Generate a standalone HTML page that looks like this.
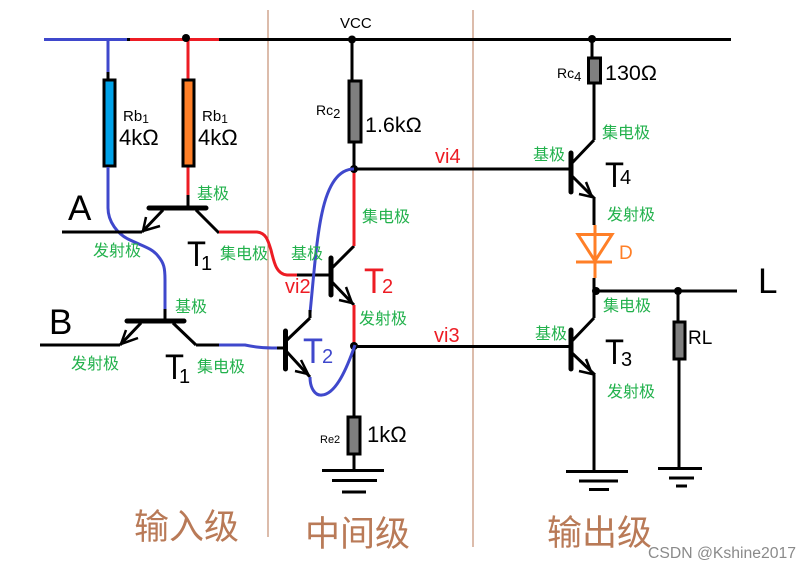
<!DOCTYPE html>
<html><head><meta charset="utf-8"><style>
html,body{margin:0;padding:0;background:#fff;width:811px;height:567px;overflow:hidden}
svg{display:block}
text{font-family:"Liberation Sans","Noto Sans CJK SC",sans-serif;fill:#000}
.g{fill:#22b14c;font-size:16px}
.b{fill:#b97a57;font-size:35px}
.r{fill:#ed1c24;font-size:20px}
.v{font-size:22px}
.T{font-size:35px}
.sub{font-size:20px}
.w{fill:none;stroke:#000;stroke-width:3}
.h{fill:none;stroke:#000;stroke-width:5;stroke-linecap:round}
.bl{fill:none;stroke:#3f48cc;stroke-width:3}
.rd{fill:none;stroke:#ed1c24;stroke-width:3}
.o{fill:none;stroke:#ff7f27;stroke-width:3}
.res{stroke:#000;stroke-width:3;fill:#7f7f7f}
</style></head><body>
<svg width="811" height="567" viewBox="0 0 811 567" xmlns="http://www.w3.org/2000/svg">
<path d="M268 10V537M473 10V547" stroke="#b97a57" stroke-width="1" fill="none"/>

<!-- top rail -->
<path class="w" d="M127 39.500H731"/>
<path class="bl" d="M44 39.500H127M108 39.500V79"/>
<path class="rd" d="M130 39.500H219M188 39.500V79M188 167V195"/>
<circle cx="186" cy="38" r="4"/>
<circle cx="352" cy="39.500" r="4"/>
<circle cx="592" cy="39" r="4"/>
<path class="w" d="M108 72V79M188 195V208M352 39.500V80M354 143V169M592 39V57M594 84V140"/>

<!-- resistors -->
<rect x="104" y="80" width="11" height="86" stroke="#000" stroke-width="3" fill="#00a2e8"/>
<rect x="183" y="80" width="11" height="86" stroke="#000" stroke-width="3" fill="#ff7f27"/>
<rect class="res" x="349" y="81" width="12" height="61"/>
<rect class="res" x="348" y="417" width="12" height="37"/>
<rect class="res" x="588.500" y="58" width="12" height="25"/>
<rect class="res" x="674" y="322" width="11" height="37"/>

<!-- blue wire left -->
<path class="bl" d="M108 167V208C108 222 118 234 128 239C142 246 152 248 158 256C164 263 165 268 165 280V309"/>
<path class="w" d="M165 309V321"/>

<!-- T1 -->
<path class="h" d="M149 208H206M127 321H184"/>
<path class="w" d="M163 210L142 232M62 232H142M196 210L219 233M173 323L196 345M141 323L120 345M40 345H120M196 345H219"/>
<path class="w" style="stroke-width:2.500" d="M146 217L143 231L160 226M126 330L121 344L138 338"/>
<path class="rd" d="M219 232H257C266 233 268 240 271 250C274 262 276 274 287 275H297"/>
<path class="w" d="M297 275H330"/>
<path class="bl" d="M219 345H245C255 347 262 348 277 348"/>
<path class="w" d="M277 348H285"/>

<!-- T2 -->
<path class="h" d="M331 258V295M285.500 331V369"/>
<path class="w" d="M332 268L354 246M332 282L354 305M287 340L310 318M287 352L310 377"/>
<path class="w" style="stroke-width:2.500" d="M346 287L352 303L339 300M301 360L308 374L295 371"/>
<path class="rd" d="M354 169V246M354 305V347"/>
<path class="w" d="M354 169H570M354 346.500H570M354 347V417M354 455V470"/>
<circle cx="354" cy="169" r="4"/>
<circle cx="354" cy="346" r="4"/>
<path class="bl" d="M354 169C338 169 328 185 322 213C316 240 313 285 310 313M310 377C310 388 315 396 322 395C336 394 347 368 355 345"/>
<path class="w" d="M310 310V318"/>

<!-- grounds -->
<path class="w" d="M322 470.500H384M332 480.500H377M342 492H366M566 471.500H628M579 481H618M589 489.500H609M658 468.500H702M669 478H694M676 486H687"/>

<!-- T4 / T3 -->
<path class="h" d="M571 153V192M571 330V369"/>
<path class="w" d="M572 163L594 140M572 176L595 199M594 199V225M594 278V291M572 341L594 318M572 353L595 375M594 291V318M594 375V471M596 291H737M678 291V322M679 359V468"/>
<path class="w" style="stroke-width:2.500" d="M586 182L592 197L579 194M586 359L592 374L579 371"/>
<path class="o" d="M595 225V278M578 234.500H612L595 261ZM576 262H612"/>
<circle cx="596" cy="291" r="4"/>
<circle cx="678" cy="291" r="4"/>

<!-- labels -->
<text x="340" y="28" font-size="15">VCC</text>
<text x="123" y="121" style="font-size:15px">Rb<tspan style="font-size:12px" dy="2">1</tspan></text>
<text x="202" y="121" style="font-size:15px">Rb<tspan style="font-size:12px" dy="2">1</tspan></text>
<text x="119" y="145" class="v">4kΩ</text>
<text x="198" y="145" class="v">4kΩ</text>
<text x="316" y="115" style="font-size:14px">Rc<tspan style="font-size:13px" dy="3">2</tspan></text>
<text x="365" y="132" style="font-size:21.500px">1.6kΩ</text>
<text x="320" y="443" style="font-size:11px">Re2</text>
<text x="367" y="442" class="v">1kΩ</text>
<text x="557" y="78" style="font-size:14px">Rc<tspan style="font-size:13px" dy="3">4</tspan></text>
<text x="605" y="80" style="font-size:21.500px">130Ω</text>
<text x="688" y="344" style="font-size:19px">RL</text>

<text x="68" y="220" style="font-size:35px">A</text>
<text x="49" y="334" style="font-size:35px">B</text>
<text x="758" y="293" style="font-size:35px">L</text>

<text x="187" y="266" class="T" textLength="19" lengthAdjust="spacingAndGlyphs">T</text>
<text x="201" y="270" class="sub">1</text>
<text x="165" y="379" class="T" textLength="19" lengthAdjust="spacingAndGlyphs">T</text>
<text x="179" y="383" class="sub">1</text>
<text x="364" y="293" class="T" style="fill:#ed1c24" textLength="20" lengthAdjust="spacingAndGlyphs">T</text>
<text x="382" y="293" class="sub" style="fill:#ed1c24">2</text>
<text x="303" y="363" class="T" style="fill:#3f48cc" textLength="20" lengthAdjust="spacingAndGlyphs">T</text>
<text x="322" y="363" class="sub" style="fill:#3f48cc">2</text>
<text x="605" y="187" class="T" textLength="19" lengthAdjust="spacingAndGlyphs">T</text>
<text x="620" y="184" class="sub">4</text>
<text x="605" y="364" class="T" textLength="19" lengthAdjust="spacingAndGlyphs">T</text>
<text x="621" y="366" class="sub">3</text>
<text x="619" y="259" style="font-size:19px;fill:#ff7f27">D</text>

<text x="197" y="199" class="g">基极</text>
<text x="175" y="312" class="g">基极</text>
<text x="291" y="259" class="g">基极</text>
<text x="533" y="160" class="g">基极</text>
<text x="535" y="339" class="g">基极</text>
<text x="93" y="256" class="g">发射极</text>
<text x="71" y="369" class="g">发射极</text>
<text x="359" y="324" class="g">发射极</text>
<text x="607" y="220" class="g">发射极</text>
<text x="607" y="397" class="g">发射极</text>
<text x="220" y="259" class="g">集电极</text>
<text x="197" y="372" class="g">集电极</text>
<text x="362" y="222" class="g">集电极</text>
<text x="602" y="138" class="g">集电极</text>
<text x="603" y="311" class="g">集电极</text>

<text x="435" y="163" class="r">vi4</text>
<text x="285" y="293" class="r">vi2</text>
<text x="434" y="342" class="r">vi3</text>

<text x="134" y="539" class="b">输入级</text>
<text x="305" y="546" class="b">中间级</text>
<text x="547" y="545" class="b">输出级</text>

<text x="648" y="558" style="font-size:15.500px;fill:#8a8a8a" textLength="148" lengthAdjust="spacingAndGlyphs">CSDN @Kshine2017</text>
</svg>
</body></html>
